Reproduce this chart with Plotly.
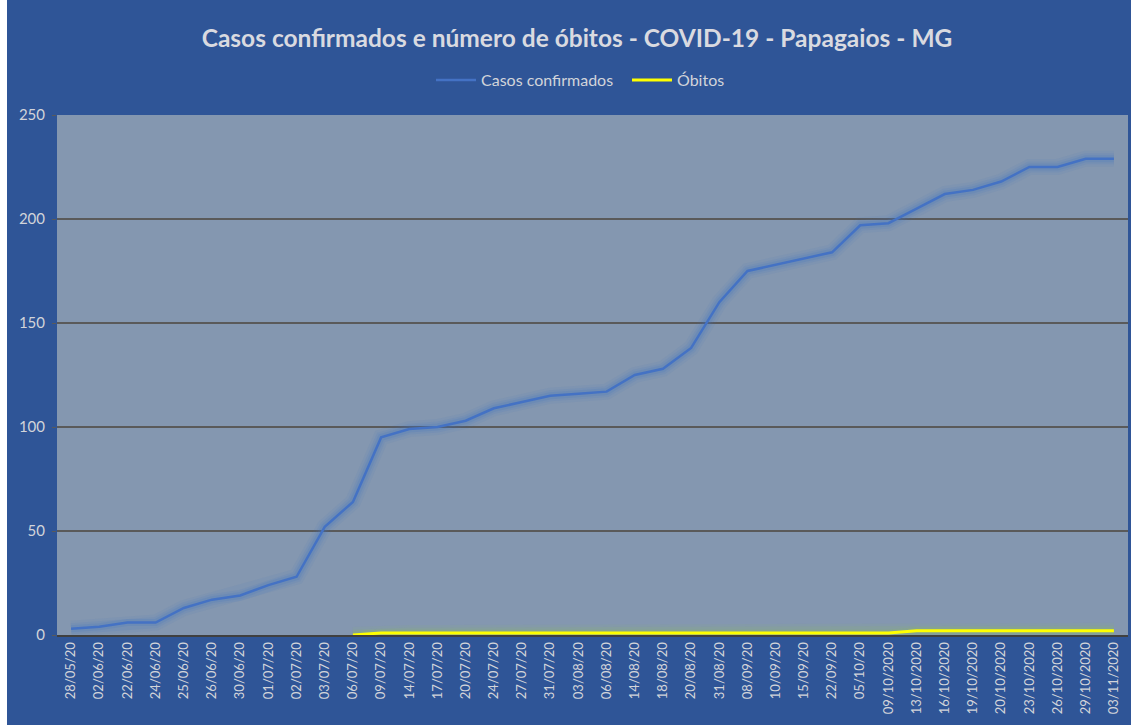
import plotly.graph_objects as go

datas = ["28/05/20", "02/06/20", "22/06/20", "24/06/20", "25/06/20", "26/06/20", "30/06/20",
         "01/07/20", "02/07/20", "03/07/20", "06/07/20", "09/07/20", "14/07/20", "17/07/20",
         "20/07/20", "24/07/20", "27/07/20", "31/07/20", "03/08/20", "06/08/20", "14/08/20",
         "18/08/20", "20/08/20", "31/08/20", "08/09/20", "10/09/20", "15/09/20", "22/09/20",
         "05/10/20", "09/10/2020", "13/10/2020", "16/10/2020", "19/10/2020", "20/10/2020",
         "23/10/2020", "26/10/2020", "29/10/2020", "03/11/2020"]

casos = [3, 4, 6, 6, 13, 17, 19, 24, 28, 52, 64, 95, 99, 100, 103, 109, 112, 115, 116, 117,
         125, 128, 138, 160, 175, 178, 181, 184, 197, 198, 205, 212, 214, 218, 225, 225, 229, 229]

obitos = [None, None, None, None, None, None, None, None, None, None, 0, 1, 1, 1, 1, 1, 1, 1, 1,
          1, 1, 1, 1, 1, 1, 1, 1, 1, 1, 1, 2, 2, 2, 2, 2, 2, 2, 2]

y_ticks = [0, 50, 100, 150, 200, 250]

TXT = "#D2D4DA"
FONT = "Lato"

fig = go.Figure()
# soft glow layers
for w, a in [(16, 0.08), (11, 0.12), (7, 0.18)]:
    fig.add_trace(go.Scatter(x=datas, y=casos, mode="lines", showlegend=False, hoverinfo="skip",
                             line=dict(color=f"rgba(68,114,196,{a})", width=w)))
    fig.add_trace(go.Scatter(x=datas, y=obitos, mode="lines", showlegend=False, hoverinfo="skip",
                             line=dict(color=f"rgba(140,190,90,{a})", width=w)))
fig.add_trace(go.Scatter(x=datas, y=casos, mode="lines", name="Casos confirmados",
                         line=dict(color="#4472C4", width=2.5)))
fig.add_trace(go.Scatter(x=datas, y=obitos, mode="lines", name="Óbitos",
                         line=dict(color="#FFFF00", width=3)))

OFF = 7  # white strip at the left of the page
L, R, T, B = 50, 3, 115, 90
W, H = 1131 - OFF, 725
pw = W - L - R
ph = H - T - B

fig.update_layout(
    width=W, height=H,
    margin=dict(l=L, r=R, t=T, b=B, autoexpand=False),
    paper_bgcolor="#2F5597",
    plot_bgcolor="#8497B0",
    font=dict(family=FONT, color=TXT, size=15),
    title=dict(text="<b>Casos confirmados e número de óbitos - COVID-19 - Papagaios - MG</b>",
               x=(577 - OFF) / W, xref="container", xanchor="center",
               y=1 - 38 / H, yref="container", yanchor="middle",
               font=dict(family=FONT, size=24.5, color="#D9DAE0")),
    legend=dict(orientation="h", x=(437 - 6 - OFF - L) / pw, xanchor="left",
                y=(H - B - 80) / ph, yanchor="middle",
                bgcolor="rgba(0,0,0,0)", font=dict(size=16, color=TXT),
                itemwidth=40, entrywidth=141, entrywidthmode="pixels"),
    xaxis=dict(type="category", tickangle=-90, showgrid=False, range=[-0.5, len(datas) - 0.5],
               tickfont=dict(size=13, color=TXT), showline=True, linecolor="#404040",
               linewidth=2, ticks="", automargin=False),
    yaxis=dict(range=[0, 250], tickvals=y_ticks, showgrid=True, gridcolor="#5A5A5A",
               gridwidth=1.5, zeroline=False, ticks="outside", ticklen=4, tickcolor="#5A5A5A",
               tickfont=dict(size=15, color=TXT), automargin=False, showline=False,
               ticklabelstandoff=4),
)

fig.write_html("out.html", config={"displayModeBar": False},
               post_script=("document.body.style.margin='0';"
                            "document.body.style.marginLeft='%dpx';"
                            "document.body.style.background='white';"
                            "document.body.style.overflow='hidden';" % OFF))
